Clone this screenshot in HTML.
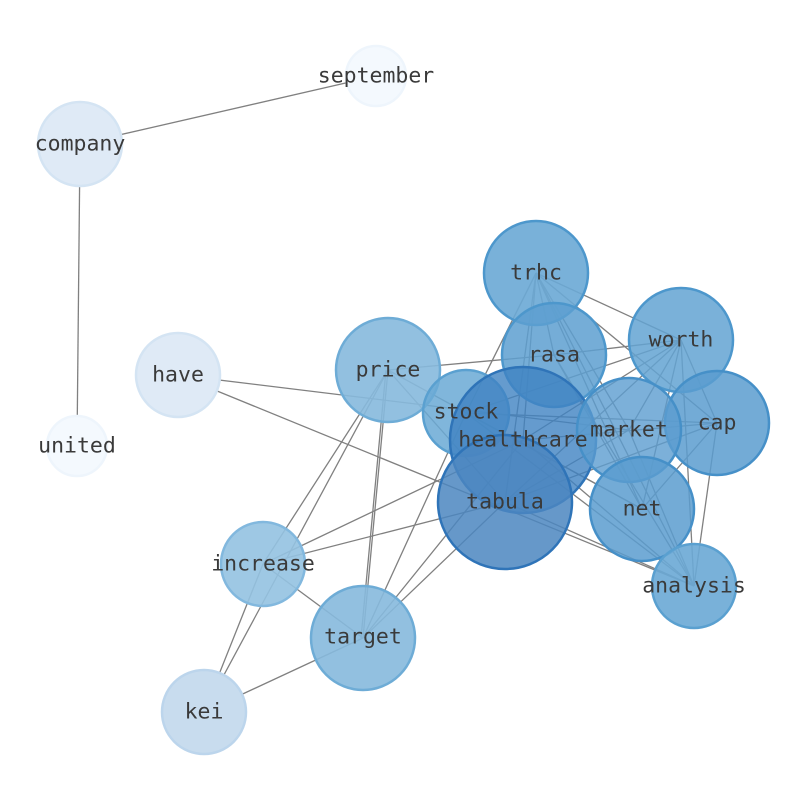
<!DOCTYPE html>
<html><head><meta charset="utf-8"><style>html,body{margin:0;padding:0;background:#fff;}svg{display:block}</style></head>
<body>
<svg width="794" height="790" viewBox="0 0 794 790" xmlns="http://www.w3.org/2000/svg">
<g stroke="#808080" stroke-width="1.3" fill="none">
<line x1="376" y1="76" x2="80" y2="144"/>
<line x1="80" y1="144" x2="77" y2="446"/>
<line x1="178" y1="375" x2="629" y2="430"/>
<line x1="178" y1="375" x2="694" y2="586"/>
<line x1="388" y1="370" x2="204" y2="712"/>
<line x1="388" y1="370" x2="263" y2="564"/>
<line x1="388" y1="370" x2="363" y2="638"/>
<line x1="386" y1="370" x2="361" y2="638"/>
<line x1="388" y1="370" x2="554" y2="355"/>
<line x1="388" y1="370" x2="642" y2="509"/>
<line x1="388" y1="370" x2="505" y2="502"/>
<line x1="263" y1="564" x2="204" y2="712"/>
<line x1="263" y1="564" x2="363" y2="638"/>
<line x1="263" y1="564" x2="523" y2="440"/>
<line x1="263" y1="564" x2="505" y2="502"/>
<line x1="363" y1="638" x2="204" y2="712"/>
<line x1="363" y1="638" x2="505" y2="502"/>
<line x1="363" y1="638" x2="523" y2="440"/>
<line x1="363" y1="638" x2="466" y2="413"/>
<line x1="536" y1="273" x2="554" y2="355"/>
<line x1="536" y1="273" x2="681" y2="340"/>
<line x1="536" y1="273" x2="717" y2="423"/>
<line x1="536" y1="273" x2="629" y2="430"/>
<line x1="536" y1="273" x2="642" y2="509"/>
<line x1="536" y1="273" x2="505" y2="502"/>
<line x1="536" y1="273" x2="523" y2="440"/>
<line x1="536" y1="273" x2="466" y2="413"/>
<line x1="536" y1="273" x2="694" y2="586"/>
<line x1="681" y1="340" x2="466" y2="413"/>
<line x1="681" y1="340" x2="523" y2="440"/>
<line x1="681" y1="340" x2="505" y2="502"/>
<line x1="681" y1="340" x2="629" y2="430"/>
<line x1="681" y1="340" x2="642" y2="509"/>
<line x1="681" y1="340" x2="694" y2="586"/>
<line x1="681" y1="340" x2="717" y2="423"/>
<line x1="681" y1="340" x2="554" y2="355"/>
<line x1="717" y1="423" x2="466" y2="413"/>
<line x1="717" y1="423" x2="523" y2="440"/>
<line x1="717" y1="423" x2="505" y2="502"/>
<line x1="717" y1="423" x2="642" y2="509"/>
<line x1="717" y1="423" x2="694" y2="586"/>
<line x1="554" y1="355" x2="642" y2="509"/>
<line x1="554" y1="355" x2="694" y2="586"/>
<line x1="466" y1="413" x2="694" y2="586"/>
<line x1="466" y1="413" x2="642" y2="509"/>
<line x1="505" y1="502" x2="694" y2="586"/>
<line x1="523" y1="440" x2="694" y2="586"/>
<line x1="629" y1="430" x2="694" y2="586"/>
<line x1="629" y1="430" x2="505" y2="502"/>
</g>
<g stroke-width="2.5">
<circle cx="376" cy="76" r="30" fill="#f4f9fe" stroke="#eef5fc"/>
<circle cx="80" cy="144" r="42" fill="#dfeaf6" stroke="#d4e4f3"/>
<circle cx="77" cy="446" r="30" fill="#f4f9fe" stroke="#eef5fc"/>
<circle cx="178" cy="375" r="42" fill="#dfeaf6" stroke="#d4e4f3"/>
<circle cx="204" cy="712" r="42" fill="#c8dcee" stroke="#bcd5ec"/>
<circle cx="263" cy="564" r="42" fill="#94c2e1" fill-opacity="0.9" stroke="#82b8de"/>
<circle cx="363" cy="638" r="52" fill="#86b9dd" fill-opacity="0.9" stroke="#6eacd6"/>
<circle cx="388" cy="370" r="52" fill="#86b9dd" fill-opacity="0.9" stroke="#6eacd6"/>
<circle cx="536" cy="273" r="52" fill="#6aa9d5" fill-opacity="0.9" stroke="#4d97cc"/>
<circle cx="554" cy="355" r="52" fill="#5d9fd0" fill-opacity="0.85" stroke="#4d97cc"/>
<circle cx="681" cy="340" r="52" fill="#63a3d2" fill-opacity="0.85" stroke="#4d97cc"/>
<circle cx="717" cy="423" r="52" fill="#5b9ccf" fill-opacity="0.85" stroke="#4690c8"/>
<circle cx="466" cy="413" r="43" fill="#6aa9d5" fill-opacity="0.85" stroke="#5aa0d0"/>
<circle cx="523" cy="440" r="73" fill="#3f82c2" fill-opacity="0.8" stroke="#2f74b8"/>
<circle cx="629" cy="430" r="52" fill="#5b9ccf" fill-opacity="0.8" stroke="#4690c8"/>
<circle cx="505" cy="502" r="67" fill="#4b86c0" fill-opacity="0.85" stroke="#2f74b8"/>
<circle cx="642" cy="509" r="52" fill="#5b9ccf" fill-opacity="0.85" stroke="#4690c8"/>
<circle cx="694" cy="586" r="42" fill="#6aa9d5" fill-opacity="0.9" stroke="#5aa0d0"/>
</g>
<g font-family="'DejaVu Sans Mono','Liberation Mono',monospace" font-size="21.5" fill="#3a3a3a" text-anchor="middle" dominant-baseline="central">
<text x="376" y="76">september</text>
<text x="80" y="144">company</text>
<text x="77" y="446">united</text>
<text x="178" y="375">have</text>
<text x="388" y="370">price</text>
<text x="536" y="273">trhc</text>
<text x="554" y="355">rasa</text>
<text x="681" y="340">worth</text>
<text x="717" y="423">cap</text>
<text x="466" y="412">stock</text>
<text x="523" y="440">healthcare</text>
<text x="629" y="430">market</text>
<text x="505" y="502">tabula</text>
<text x="642" y="509">net</text>
<text x="694" y="586">analysis</text>
<text x="263" y="564">increase</text>
<text x="363" y="637">target</text>
<text x="204" y="712">kei</text>
</g>
</svg>
</body></html>
